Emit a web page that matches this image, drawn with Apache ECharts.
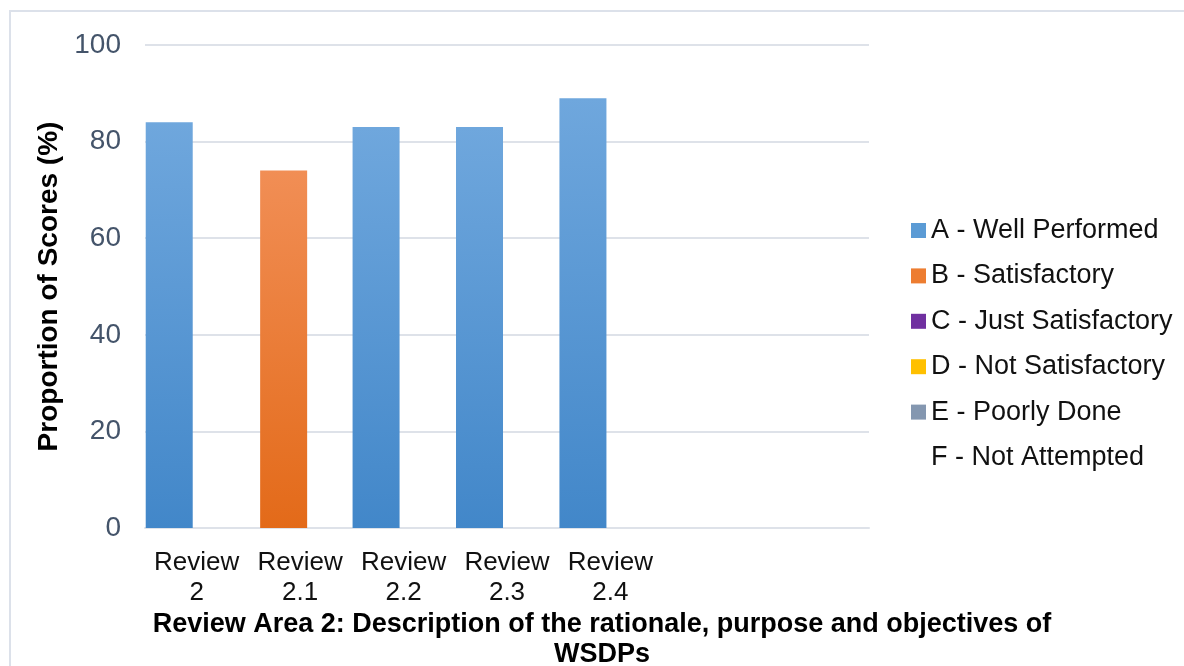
<!DOCTYPE html>
<html>
<head>
<meta charset="utf-8">
<script src="https://cdn.jsdelivr.net/npm/echarts@6/dist/echarts.min.js"></script>
<style>
  html, body { margin: 0; padding: 0; background: #fff; }
  #chart { width: 1184px; height: 666px; }
</style>
</head>
<body>
<div id="chart"></div>
<script>
// Review areas on the x axis (two trailing slots left empty)
const categories = ['Review\n2', 'Review\n2.1', 'Review\n2.2', 'Review\n2.3', 'Review\n2.4', '', ''];

// Proportion of scores (%) per grade
const gradeA = [84, 0, 83, 83, 89, 0, 0];
const gradeB = [0, 74, 0, 0, 0, 0, 0];
const gradeC = [0, 0, 0, 0, 0, 0, 0];
const gradeD = [0, 0, 0, 0, 0, 0, 0];
const gradeE = [0, 0, 0, 0, 0, 0, 0];
const gradeF = [0, 0, 0, 0, 0, 0, 0];

const seriesNames = ['A - Well Performed', 'B - Satisfactory', 'C - Just Satisfactory',
  'D - Not Satisfactory', 'E - Poorly Done', 'F - Not Attempted'];

const yTicks = { min: 0, max: 100, interval: 20 };

const fontFamily = '"Liberation Sans", Arial, sans-serif';

function grad(top, bottom) {
  return new echarts.graphic.LinearGradient(0, 0, 0, 1, [
    { offset: 0, color: top },
    { offset: 1, color: bottom }
  ]);
}

const palette = [
  { legend: '#5B9BD5', fill: grad('#6FA7DD', '#4287C9') },
  { legend: '#ED7D31', fill: grad('#F18E55', '#E36A19') },
  { legend: '#7030A0', fill: '#7030A0' },
  { legend: '#FFC000', fill: '#FFC000' },
  { legend: '#8497B0', fill: '#8497B0' },
  { legend: '#FFFFFF', fill: '#FFFFFF' }
];

const dataSets = [gradeA, gradeB, gradeC, gradeD, gradeE, gradeF];

const gridColor = '#DEE2E9';

const chart = echarts.init(document.getElementById('chart'), null, { renderer: 'canvas' });

chart.setOption({
  backgroundColor: '#ffffff',
  animation: false,
  textStyle: { fontFamily: fontFamily },
  graphic: [{
    type: 'rect',
    shape: { x: 10, y: 11, width: 1400, height: 900 },
    style: { fill: 'none', stroke: '#DCE1EA', lineWidth: 2 },
    silent: true,
    z: -10
  }],
  title: {
    text: 'Review Area 2: Description of the rationale, purpose and objectives of\nWSDPs',
    left: 597,
    top: 605,
    textAlign: 'center',
    textStyle: {
      fontFamily: fontFamily,
      fontWeight: 'bold',
      fontSize: 27,
      lineHeight: 30,
      color: '#000000'
    }
  },
  legend: {
    orient: 'vertical',
    left: 906,
    top: 212,
    itemWidth: 15,
    itemHeight: 15,
    itemGap: 18.4,
    icon: 'rect',
    data: seriesNames.map((n, i) => ({ name: n, itemStyle: { color: palette[i].legend } })),
    textStyle: { fontFamily: fontFamily, fontSize: 27, lineHeight: 27, color: '#111111' }
  },
  grid: { left: 145, right: 315, top: 45, bottom: 138, containLabel: false },
  xAxis: {
    type: 'category',
    data: categories,
    axisTick: { show: false },
    axisLine: { lineStyle: { color: gridColor, width: 2 } },
    axisLabel: {
      interval: 0,
      margin: 20,
      fontSize: 26,
      lineHeight: 30,
      color: '#111111',
      fontFamily: fontFamily
    }
  },
  yAxis: {
    type: 'value',
    min: yTicks.min,
    max: yTicks.max,
    interval: yTicks.interval,
    name: 'Proportion of Scores (%)',
    nameLocation: 'middle',
    nameRotate: 90,
    nameGap: 67,
    nameTextStyle: { fontFamily: fontFamily, fontWeight: 'bold', fontSize: 28, color: '#000000' },
    axisLine: { show: false },
    axisTick: { show: false },
    axisLabel: { margin: 24, fontSize: 28, color: '#44546A', fontFamily: fontFamily },
    splitLine: { lineStyle: { color: gridColor, width: 2 } }
  },
  series: dataSets.map((d, i) => ({
    name: seriesNames[i],
    type: 'bar',
    data: d,
    barWidth: 47,
    barGap: '-76.6%',
    itemStyle: { color: palette[i].fill }
  }))
});
</script>
</body>
</html>
